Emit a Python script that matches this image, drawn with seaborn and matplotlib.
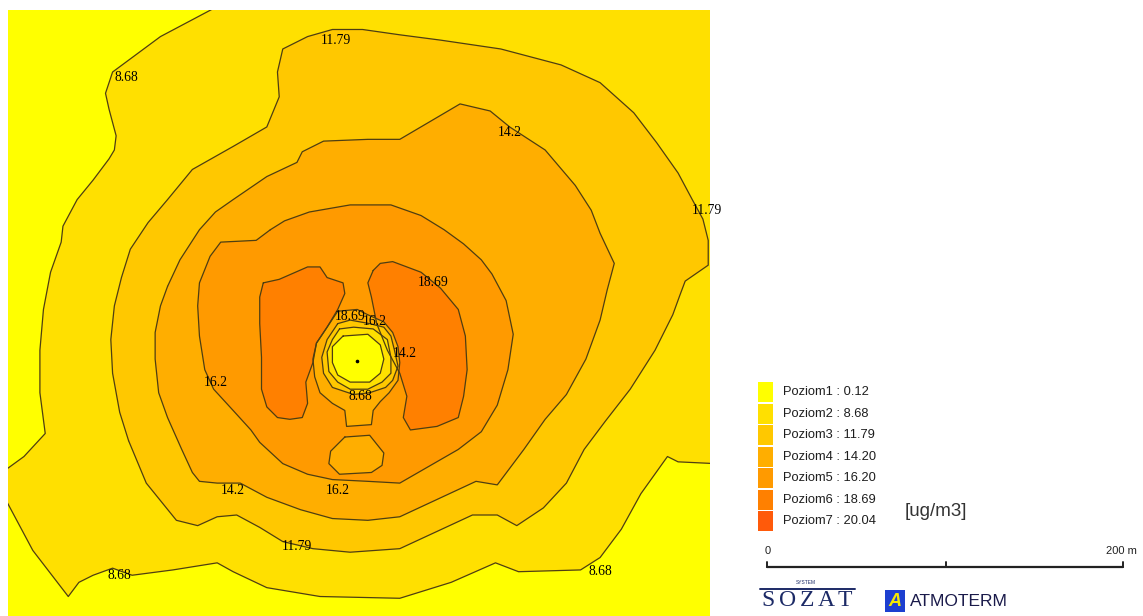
import matplotlib
matplotlib.use("Agg")
import matplotlib.pyplot as plt
import seaborn as sns
from matplotlib.patches import Rectangle
from matplotlib.lines import Line2D

# Concentration classes [ug/m3]
LEVELS = [0.12, 8.68, 11.79, 14.20, 16.20, 18.69, 20.04]
LEVEL_NAMES = [f"Poziom{i}" for i in range(1, 8)]
CLASS_COLORS = ["#FFFF00", "#FFE000", "#FFC800", "#FFAE00", "#FF9A00", "#FF8000", "#FF5A0A"]

# Isolines in metres east (x) / north (y) of the emission source
# 8.68 - north-west branch (top edge -> west edge)
iso868_nw_x = [-77, -111, -138, -142, -140, -136, -137, -140, -149, -158, -166, -167, -173, -177, -179, -179, -176, -188, -199]
iso868_nw_y = [201, 183, 163, 151, 142, 127, 119, 114, 102, 91, 76, 67, 50, 29, 6, -18, -41, -54, -62]
# 8.68 - southern branch (west edge -> east edge)
iso868_s_x = [-199, -183, -163, -157, -149, -138, -127, -104, -79, -70, -51, -21, 24, 53, 78, 91, 126, 137, 149, 160, 175, 181, 202]
iso868_s_y = [-77, -107, -133, -125, -121, -117, -121, -118, -114, -119, -128, -133, -134, -125, -114, -119, -118, -111, -95, -75, -54, -57, -58]

iso1179_x = [-129, -119, -102, -90, -79, -68, -55, -42, -25, -4, 24, 65, 79, 90, 105, 118, 128, 140, 154, 168, 178, 182, 185,
             198, 198, 195, 189, 181, 169, 156, 137, 115, 81, 47, 24, 3, -14, -28, -42, -45, -44, -51, -70, -93, -107,
             -118, -128, -133, -137, -139, -138, -134]
iso1179_y = [-45, -69, -90, -93, -88, -87, -94, -102, -106, -108, -106, -87, -87, -93, -83, -69, -50, -34, -16, 6, 26, 37, 45,
             54, 68, 80, 91, 106, 123, 140, 157, 167, 176, 181, 184, 187, 187, 183, 176, 163, 149, 132, 121, 108, 91,
             78, 63, 47, 31, 12, -7, -29]

iso142_x = [-107, -111, -114, -114, -112, -107, -99, -93, -89, -79, -66, -51, -32, -14, 6, 24, 67, 79, 94, 106, 118, 129,
            137, 141, 145, 137, 132, 123, 106, 86, 75, 58, 41, 24, 6, -19, -31, -34, -51, -70, -80, -89, -100]
iso142_y = [42, 31, 16, 1, -18, -32, -50, -63, -68, -69, -69, -77, -84, -89, -90, -88, -68, -70, -50, -33, -19, 1,
            23, 40, 55, 72, 85, 99, 119, 132, 141, 145, 135, 125, 125, 124, 118, 112, 104, 91, 84, 74, 57]

iso162_x = [-49, -57, -77, -83, -89, -90, -89, -86, -81, -70, -60, -55, -42, -28, -14, 6, 24, 57, 70, 79, 85, 88, 84, 76,
            70, 60, 49, 36, 19, -4, -27, -41]
iso162_y = [74, 68, 67, 59, 44, 31, 14, -5, -16, -28, -39, -46, -58, -64, -67, -68, -69, -50, -40, -25, -5, 15, 34, 49,
            57, 66, 74, 82, 88, 88, 84, 79]

# 18.69 - western and eastern maxima
iso1869_w_x = [-53, -44, -28, -21, -17, -8, -7, -11, -17, -23, -25, -29, -28, -31, -38, -45, -51, -54, -54, -55, -55]
iso1869_w_y = [44, 46, 53, 53, 47, 44, 38, 29, 19, 10, -1, -12, -24, -32, -33, -32, -26, -16, 2, 21, 36]
iso1869_e_x = [9, 13, 20, 36, 47, 57, 61, 62, 60, 57, 45, 30, 26, 28, 24, 17, 11, 8, 6]
iso1869_e_y = [51, 55, 56, 50, 41, 29, 14, -5, -20, -32, -37, -39, -32, -20, -7, 6, 21, 36, 44]

# Rings around the stack (values rise outward from the source)
ring162_x = [-11, 0, 6, 15, 20, 23, 24, 23, 18, 13, 9, 8, -6, -7, -14, -21, -24, -25, -23, -17]
ring162_y = [28, 29, 26, 22, 16, 8, -1, -11, -18, -23, -28, -36, -37, -28, -24, -18, -9, 1, 10, 19]
ring142_x = [-11, -4, 7, 15, 19, 21, 23, 20, 16, 7, -2, -14, -19, -20, -17]
ring142_y = [21, 23, 21, 19, 14, 6, -3, -11, -15, -18, -19, -15, -7, 2, 12]
ring1179_x = [-10, -2, 9, 17, 19, 19, 14, 6, -4, -11, -16, -17, -14]
ring1179_y = [18, 19, 18, 12, 2, -7, -12, -16, -16, -12, -6, 5, 12]
ring868_x = [-8, 6, 13, 15, 13, 7, -4, -11, -14, -14]
ring868_y = [14, 15, 9, 1, -7, -12, -12, -8, -1, 8]

# Pocket below 16.2 south of the stack
pocket162_x = [-7, 7, 15, 14, 8, -10, -16, -15]
pocket162_y = [-43, -42, -52, -59, -63, -64, -58, -51]

# Isoline labels: class index into LEVELS, position in metres
label_level = [2, 1, 3, 2, 5, 5, 4, 3, 4, 1, 3, 4, 2, 1, 1]
label_x = [-12, -130, 86, 197, 43, -4, 10, 27, -80, 2, -70, -11, -34, -134, 137]
label_y = [181, 160, 129, 85, 44, 25, 22, 4, -12, -20, -73, -73, -105, -121, -119]

MAP_X = (-197, 199)
MAP_Y = (-144, 198)

sns.set_theme(style="white")
plt.rcParams["font.family"] = ["Liberation Sans", "DejaVu Sans"]

W, H = 1143, 616
fig = plt.figure(figsize=(W / 100, H / 100), dpi=100)
fig.patch.set_facecolor("white")


def fx(px):
    return px / W


def fy(py):
    return 1 - py / H


ax = fig.add_axes([fx(8), 0, 702 / W, 606 / H])
ax.set_xlim(*MAP_X)
ax.set_ylim(*MAP_Y)
ax.set_facecolor(CLASS_COLORS[0])
for s in ax.spines.values():
    s.set_visible(False)
ax.set_xticks([])
ax.set_yticks([])

pad = 40
outer868_x = iso868_nw_x + iso868_s_x + [MAP_X[1] + pad, MAP_X[1] + pad, iso868_nw_x[0]]
outer868_y = iso868_nw_y + iso868_s_y + [iso868_s_y[-1], MAP_Y[1] + pad, MAP_Y[1] + pad]

fills = [
    (outer868_x, outer868_y, 1),
    (iso1179_x, iso1179_y, 2),
    (iso142_x, iso142_y, 3),
    (iso162_x, iso162_y, 4),
    (iso1869_w_x, iso1869_w_y, 5),
    (iso1869_e_x, iso1869_e_y, 5),
    (ring162_x, ring162_y, 3),
    (ring142_x, ring142_y, 2),
    (ring1179_x, ring1179_y, 1),
    (ring868_x, ring868_y, 0),
    (pocket162_x, pocket162_y, 3),
]
for i, (xs, ys, k) in enumerate(fills):
    ax.fill(xs, ys, color=CLASS_COLORS[k], lw=0, zorder=1 + i * 0.01)

LINE_C = "#4e3e12"
open_lines = [(iso868_nw_x, iso868_nw_y), (iso868_s_x, iso868_s_y)]
closed_lines = [(iso1179_x, iso1179_y), (iso142_x, iso142_y), (iso162_x, iso162_y),
                (iso1869_w_x, iso1869_w_y), (iso1869_e_x, iso1869_e_y),
                (ring162_x, ring162_y), (ring142_x, ring142_y), (ring1179_x, ring1179_y),
                (ring868_x, ring868_y), (pocket162_x, pocket162_y)]
for xs, ys in open_lines:
    ax.plot(xs, ys, color=LINE_C, lw=0.9, zorder=3)
for xs, ys in closed_lines:
    ax.plot(xs + xs[:1], ys + ys[:1], color=LINE_C, lw=0.9, zorder=3)

ax.plot([0], [0], marker="o", ms=1.6, color="black", zorder=4)

for k, x, y in zip(label_level, label_x, label_y):
    ax.text(x, y, f"{LEVELS[k]:g}", ha="center", va="center", fontsize=9.8,
            family=["Liberation Serif", "DejaVu Serif"], color="black", zorder=5, clip_on=False)

# Legend of concentration classes
row_h = 21.5
for i, (name, v, c) in enumerate(zip(LEVEL_NAMES, LEVELS, CLASS_COLORS)):
    top = 382 + i * row_h
    fig.add_artist(Rectangle((fx(757.5), fy(top + row_h - 1.2)), 15.5 / W, (row_h - 1.2) / H,
                             transform=fig.transFigure, facecolor=c, edgecolor="none"))
    fig.text(fx(783), fy(top + row_h / 2 - 0.5), f"{name} : {v:.2f}", ha="left", va="center",
             fontsize=9.3, color="#1e1e1e")
fig.text(fx(905), fy(511), "[ug/m3]", ha="left", va="center", fontsize=13.5, color="#333333")

# Scale bar
bar_y = 567
fig.add_artist(Line2D([fx(767), fx(1123)], [fy(bar_y), fy(bar_y)], transform=fig.transFigure,
                      color="#222222", lw=1.6))
for tx in (767, 946, 1123):
    fig.add_artist(Line2D([fx(tx), fx(tx)], [fy(bar_y), fy(bar_y - 5)], transform=fig.transFigure,
                          color="#222222", lw=1.4))
fig.text(fx(768), fy(551), "0", ha="center", va="center", fontsize=8, color="#222222")
fig.text(fx(1106), fy(551), "200 m", ha="left", va="center", fontsize=8, color="#222222")

# Logos
navy = "#1c2a66"
fig.add_artist(Line2D([fx(760), fx(855)], [fy(589), fy(589)], transform=fig.transFigure, color=navy, lw=1.4))
fig.text(fx(806), fy(583), "SYSTEM", ha="center", va="center", fontsize=3.5, color=navy)
for ch, cx in zip("SOZAT", (768, 788, 807, 826, 845)):
    fig.text(fx(cx), fy(601), ch, ha="center", va="center", fontsize=17,
             family=["Liberation Serif", "DejaVu Serif"], color=navy)
fig.add_artist(Rectangle((fx(885), fy(612)), 20 / W, 22 / H, transform=fig.transFigure,
                         facecolor="#1d3fd0", edgecolor="none"))
fig.text(fx(895), fy(601), "A", ha="center", va="center", fontsize=13, fontweight="bold",
         style="italic", color="#f5e800")
fig.text(fx(910), fy(601), "ATMOTERM", ha="left", va="center", fontsize=12.5, color="#1a1a4a")

fig.savefig("out.png", dpi=100, facecolor="white")
